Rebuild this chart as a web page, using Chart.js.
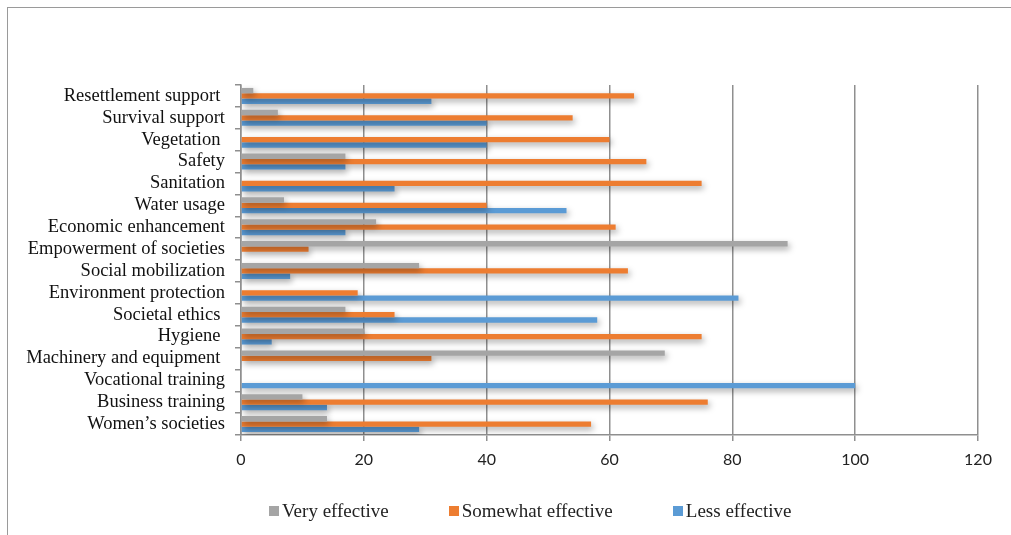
<!DOCTYPE html>
<html>
<head>
<meta charset="utf-8">
<script src="https://cdn.jsdelivr.net/npm/chart.js@4/dist/chart.umd.min.js"></script>
<style>
  body { margin: 0; background: #fff; }
  #wrap { position: relative; width: 1011px; height: 535px; overflow: hidden; }
  #frame { position: absolute; left: 7px; top: 7px; right: -2px; bottom: -2px; border-left: 1px solid #9a9a9a; border-top: 1px solid #9a9a9a; }
  #chart { position: absolute; left: 0; top: 0; }
  #legend { position: absolute; left: 269px; top: 500px; display: flex; gap: 60px; font: 19px "Liberation Serif", "Times New Roman", serif; color: #222; }
  #legend span { display: flex; align-items: center; }
  #legend i { display: inline-block; width: 10px; height: 10px; margin-right: 3px; }
</style>
</head>
<body>
<div id="wrap">
  <div id="frame"></div>
  <canvas id="chart" width="1011" height="535"></canvas>
  <div id="legend"></div>
</div>
<script>
const categories = [
  'Resettlement support ', 'Survival support', 'Vegetation ', 'Safety', 'Sanitation',
  'Water usage', 'Economic enhancement', 'Empowerment of societies', 'Social mobilization',
  'Environment protection', 'Societal ethics ', 'Hygiene ', 'Machinery and equipment ',
  'Vocational training', 'Business training', 'Women\u2019s societies'
];
const veryEffective     = [2, 6, 0, 17, 0, 7, 22, 89, 29, 0, 17, 20, 69, 0, 10, 14];
const somewhatEffective = [64, 54, 60, 66, 75, 40, 61, 11, 63, 19, 25, 75, 31, 0, 76, 57];
const lessEffective     = [31, 40, 40, 17, 25, 53, 17, 0, 8, 81, 58, 5, 0, 100, 14, 29];
const xTicks = [0, 20, 40, 60, 80, 100, 120];

const series = [
  { label: 'Very effective', data: veryEffective, color: '#a5a5a5' },
  { label: 'Somewhat effective', data: somewhatEffective, color: '#ed7d31' },
  { label: 'Less effective', data: lessEffective, color: '#5b9bd5' }
];

const gridGray = '#8f8f8f';

// soft drop shadow under the bars, like the office chart
const barShadow = {
  id: 'barShadow',
  beforeDatasetsDraw(chart) {
    const c = chart.ctx;
    c.save();
    c.shadowColor = 'rgba(0,0,0,0.35)';
    c.shadowBlur = 6;
    c.shadowOffsetX = 2;
    c.shadowOffsetY = 3;
  },
  afterDatasetsDraw(chart) {
    chart.ctx.restore();
  }
};

new Chart(document.getElementById('chart'), {
  type: 'bar',
  data: {
    labels: categories,
    datasets: series.map(s => ({
      label: s.label,
      data: s.data,
      backgroundColor: s.color,
      borderWidth: 0,
      barPercentage: 1,
      categoryPercentage: 0.73
    }))
  },
  options: {
    indexAxis: 'y',
    responsive: false,
    animation: false,
    layout: { padding: { left: 0, right: 33, top: 85, bottom: 60 } },
    plugins: { legend: { display: false }, tooltip: { enabled: false } },
    scales: {
      x: {
        min: 0,
        max: 120,
        afterBuildTicks: s => { s.ticks = xTicks.map(v => ({ value: v })); },
        afterFit: s => { s.height = 40; },
        grid: { color: gridGray, lineWidth: 1.5, tickLength: 6, drawTicks: true },
        border: { color: gridGray, width: 1.5 },
        ticks: { color: '#222', padding: 9, font: { family: 'Lato, "Open Sans", sans-serif', size: 16 } }
      },
      y: {
        afterFit: s => { s.width = 241; },
        grid: { drawOnChartArea: false, drawTicks: true, tickLength: 6, color: gridGray, lineWidth: 1.5 },
        border: { color: gridGray, width: 1.5 },
        ticks: {
          autoSkip: false,
          color: '#111',
          padding: 10,
          font: { family: '"Liberation Serif", "Times New Roman", serif', size: 18.5 }
        }
      }
    }
  },
  plugins: [barShadow]
});

document.getElementById('legend').innerHTML = series
  .map(s => `<span><i style="background:${s.color}"></i>${s.label}</span>`)
  .join('');
</script>
</body>
</html>
